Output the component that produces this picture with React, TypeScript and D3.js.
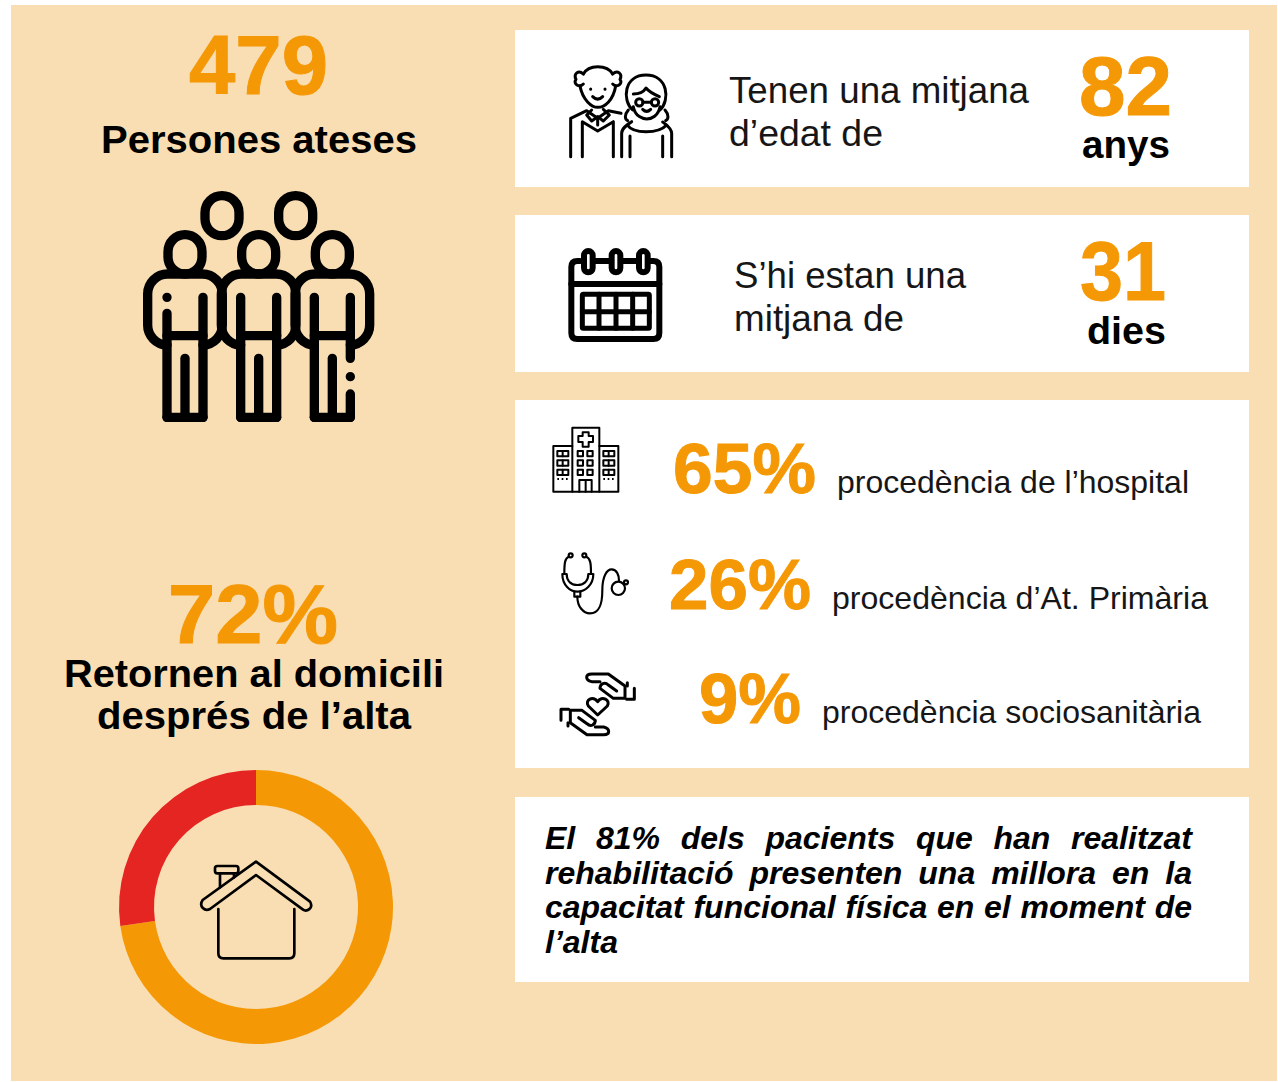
import React, { useEffect, useRef } from 'react';
import * as d3 from 'd3';

const orange = '#f59806';
const red = '#e52521';
const cream = '#fadeb3';
const ink = '#000';
const soft = '#161616';
const font = '"Liberation Sans", Arial, sans-serif';

// values
const donutLabels = ['Retornen al domicili', 'Altres'];
const donutValues = [72.8, 27.2];
const donutColors = [orange, red];

const originLabels = ['procedència de l’hospital', 'procedència d’At. Primària', 'procedència sociosanitària'];
const originValues = ['65%', '26%', '9%'];

const noteLines = [
  'El 81% dels pacients que han realitzat',
  'rehabilitació presenten una millora en la',
  'capacitat funcional física en el moment de',
  'l’alta',
];

const App = () => {
  const svgRef = useRef<SVGSVGElement | null>(null);

  useEffect(() => {
    const svg = d3.select(svgRef.current);
    svg.selectAll('*').remove();

    svg.append('rect').attr('x', 11).attr('y', 5).attr('width', 1266).attr('height', 1076).attr('fill', cream);

    const cards = [[30, 157], [215, 157], [400, 368], [797, 185]];
    svg.selectAll('.card')
      .data(cards)
      .join('rect')
      .attr('class', 'card')
      .attr('x', 515)
      .attr('y', d => d[0])
      .attr('width', 734)
      .attr('height', d => d[1])
      .attr('fill', '#fff');

    // text is stretched to the width it has in the reference
    const label = (str: string, x0: number, x1: number, y: number, size: number, weight: string, color: string) => {
      const t = svg.append('text')
        .attr('x', x0)
        .attr('y', y)
        .attr('textLength', x1 - x0)
        .attr('lengthAdjust', 'spacingAndGlyphs')
        .style('font-family', font)
        .style('font-size', `${size}px`)
        .style('font-weight', weight)
        .attr('fill', color)
        .text(str);
      // the big numbers are heavier in the reference
      if (color === orange) t.attr('stroke', orange).attr('stroke-width', 1);
    };

    label('479', 189, 328, 94, 82.5, 'bold', orange);
    label('Persones ateses', 101, 417, 153, 38, 'bold', ink);
    label('72%', 168, 338, 643, 82.5, 'bold', orange);
    label(donutLabels[0], 64, 444, 687, 38, 'bold', ink);
    label('després de l’alta', 97, 411, 729, 38, 'bold', ink);

    label('Tenen una mitjana', 729, 1029, 103, 37, 'normal', soft);
    label('d’edat de', 729, 883, 146, 37, 'normal', soft);
    label('82', 1079, 1172, 115, 82.5, 'bold', orange);
    label('anys', 1082, 1170, 158, 38, 'bold', ink);

    label('S’hi estan una', 734, 966, 288, 37, 'normal', soft);
    label('mitjana de', 734, 904, 331, 37, 'normal', soft);
    label('31', 1080, 1166, 300, 82.5, 'bold', orange);
    label('dies', 1087, 1166, 344, 38, 'bold', ink);

    const valueX = [[673, 816, 493], [669, 811, 609], [699, 801, 723]];
    const textX = [[837, 1189], [832, 1208], [822, 1201]];
    originValues.forEach((v, i) => {
      label(v, valueX[i][0], valueX[i][1], valueX[i][2], 71, 'bold', orange);
      label(originLabels[i], textX[i][0], textX[i][1], valueX[i][2], 32, 'normal', soft);
    });

    // justified note: the gap between words is measured, not the letters
    const noteY = [849, 884, 918, 953];
    noteLines.forEach((line, i) => {
      const t = svg.append('text')
        .attr('x', 545)
        .attr('y', noteY[i])
        .style('font-family', font)
        .style('font-size', '32px')
        .style('font-weight', 'bold')
        .style('font-style', 'italic')
        .attr('fill', ink)
        .text(line);
      const gaps = line.split(' ').length - 1;
      if (gaps > 0) {
        const len = (t.node() as SVGTextElement).getComputedTextLength();
        t.style('word-spacing', `${(647 - len) / gaps}px`);
      }
    });

    // donut
    const pie = d3.pie<number>().sort(null);
    const arc = d3.arc<d3.PieArcDatum<number>>().innerRadius(102).outerRadius(137);
    svg.append('g')
      .attr('transform', 'translate(256,907)')
      .selectAll('path')
      .data(pie(donutValues))
      .join('path')
      .attr('d', arc)
      .attr('fill', (_, i) => donutColors[i]);

    // icons are traced in the coordinates of a 3x crop, hence the scale
    const icon = (x: number, y: number, sw: number) =>
      svg.append('g')
        .attr('transform', `translate(${x},${y}) scale(${1 / 3})`)
        .attr('fill', 'none')
        .attr('stroke', ink)
        .attr('stroke-width', sw)
        .attr('stroke-linecap', 'round')
        .attr('stroke-linejoin', 'round');
    const paths = (g: any, list: string[]) => list.forEach(d => g.append('path').attr('d', d));

    // group of people
    const people = icon(130, 180, 28);
    [276, 497].forEach(cx => {
      people.append('rect').attr('x', cx - 51).attr('y', 47).attr('width', 102).attr('height', 120).attr('rx', 51);
    });
    [165, 386, 607].forEach((cx, i) => {
      people.append('rect').attr('x', cx - 51).attr('y', 164).attr('width', 102).attr('height', 118).attr('rx', 51);
      paths(people, [
        `M${cx - 54} 495 A60 60 0 0 1 ${cx - 112} 435 V342 A60 60 0 0 1 ${cx - 52} 282 H${cx + 52} A60 60 0 0 1 ${cx + 112} 342 V435 A60 60 0 0 1 ${cx + 54} 495`,
        `M${cx - 54} 467 H${cx + 54}`,
        `M${cx} 535 V712`,
        `M${cx - 54} 712 H${cx + 54}`,
        i === 0 ? `M${cx - 54} 352 V352 M${cx - 54} 400 V712` : `M${cx - 54} 352 V712`,
        i === 2 ? `M${cx + 54} 352 V535 M${cx + 54} 590 V590 M${cx + 54} 642 V712` : `M${cx + 54} 352 V712`,
      ]);
    });

    // elderly couple
    const couple = icon(550, 50, 9);
    paths(couple, [
      'M100 72 Q112 50 143 50 Q176 50 188 72',
      'M100 72 C85 58 70 72 78 88 C68 102 88 114 100 102',
      'M188 72 C203 58 218 72 210 88 C220 102 200 114 188 102',
      'M90 108 C98 150 125 172 143 172 C165 172 190 150 197 108',
      'M122 117 V118 M165 117 V118',
      'M128 140 Q143 155 158 140',
      'M62 320 V205 L110 182 L143 205 L175 182 L213 190',
      'M97 320 V215 L143 243 L190 215 V320',
      'M125 180 L110 195 L125 213 L143 200 L160 213 L178 195 L160 178',
      'M143 200 V225',
      'M248 180 C215 150 222 75 288 75 C354 75 361 150 330 180',
      'M250 132 C270 132 282 124 288 114 C296 124 310 132 328 140',
      'M279 157 H304',
      'M278 178 Q290 190 302 178',
      'M250 170 C255 200 280 207 290 207 C305 207 325 197 330 170',
      'M235 180 C222 195 225 208 233 212 M345 180 C358 195 355 208 347 212',
      'M232 225 C250 252 325 252 350 225',
      'M215 320 V250 C215 235 230 225 245 215',
      'M365 320 V250 C365 235 350 225 338 216',
      'M240 320 V258 M338 320 V258',
    ]);
    [268, 315].forEach(cx => couple.append('circle').attr('cx', cx).attr('cy', 157).attr('r', 11));

    // calendar
    const cal = icon(550, 235, 18);
    paths(cal, [
      'M90 78 H82 Q64 78 64 96 V294 Q64 312 82 312 H310 Q328 312 328 294 V96 Q328 78 310 78 H300',
      'M64 147 H328',
      'M135 78 H178 M218 78 H260',
    ]);
    [115, 198, 280].forEach(cx => {
      cal.append('rect').attr('x', cx - 13).attr('y', 48).attr('width', 26).attr('height', 64).attr('rx', 13);
    });
    const calGrid = icon(550, 235, 15);
    calGrid.append('rect').attr('x', 97).attr('y', 178).attr('width', 201).attr('height', 102).attr('rx', 3);
    paths(calGrid, ['M97 230 H298', 'M147 178 V280 M198 178 V280 M248 178 V280']);

    // hospital
    const hosp = icon(540, 415, 6);
    paths(hosp, [
      'M97 230 V38 H178 V230',
      'M97 93 H40 V230 H235 V93 H178',
      'M128 52 H146 V63 H159 V81 H146 V95 H128 V81 H115 V63 H128 Z',
      'M118 230 V195 H155 V230 M137 195 V230',
      'M52 192 H85 M190 192 H222',
    ]);
    hosp.selectAll('path').filter((_, i) => i === 4).attr('stroke-dasharray', '5 8').attr('stroke-linecap', 'butt');
    [108, 136, 164].forEach(y => {
      [113, 142].forEach(x => hosp.append('rect').attr('x', x).attr('y', y).attr('width', 16).attr('height', 16));
      [52, 190].forEach(x => {
        hosp.append('rect').attr('x', x).attr('y', y).attr('width', 33).attr('height', 16);
        hosp.append('path').attr('d', `M${x + 16} ${y} V${y + 16}`);
      });
    });

    // stethoscope
    const steth = icon(545, 540, 6.5);
    paths(steth, [
      'M71 50 C60 55 58 68 58 100',
      'M124 50 C136 55 138 70 138 100',
      'M52 102 H65 C65 125 80 135 97 135 C115 135 130 125 130 102 H145 C145 135 120 155 97 155 C75 155 52 135 52 102 Z',
      'M88 155 V170 H106 V155',
      'M97 170 C97 200 115 220 135 220 C165 220 172 190 172 150 C172 110 185 88 200 88 C215 88 222 105 222 122',
    ]);
    [[77, 46, 6], [118, 46, 6], [220, 145, 20], [243, 127, 6]].forEach(c => {
      steth.append('circle').attr('cx', c[0]).attr('cy', c[1]).attr('r', c[2]);
    });

    // caring hands with a heart
    const hands = icon(545, 660, 9);
    const handPaths = [
      'M165 65 H140 C120 60 120 42 140 42 H190 L240 78 V115 H205 L165 85 C165 70 180 65 190 75 L215 93',
      'M247 68 V78',
      'M268 85 V118 H245',
    ];
    paths(hands, handPaths);
    const lowerHand = hands.append('g').attr('transform', 'rotate(180 158 133)');
    paths(lowerHand, handPaths);
    paths(hands, ['M158 165 L130 138 C118 120 145 105 158 125 C170 105 198 120 187 138 Z']);

    // house inside the donut
    const house = icon(110, 760, 8);
    paths(house, [
      'M438 305 L600 425 C612 445 590 457 578 448 L438 345 L300 447 C285 455 265 440 278 420 Z',
      'M325 447 V580 Q325 595 340 595 H538 Q553 595 553 580 V447',
      'M330 340 V382 M372 340 V352',
    ]);
    house.append('rect').attr('x', 315).attr('y', 318).attr('width', 70).attr('height', 22).attr('rx', 7);
  }, []);

  return <svg ref={svgRef} width={1278} height={1082} style={{ position: 'absolute', left: 0, top: 0 }} />;
};

export default App;
